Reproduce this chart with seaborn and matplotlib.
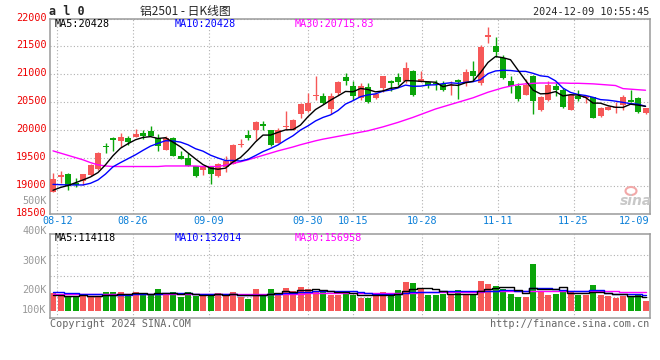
import numpy as np
import pandas as pd
import seaborn as sns
import matplotlib.pyplot as plt
from matplotlib.transforms import ScaledTranslation, IdentityTransform
from matplotlib.patches import Ellipse


# daily K line of al2501, 08-09 .. 12-09 (80 sessions)
opens = [18900, 19164, 19218, 19062, 19098, 19194, 19302, 19725, 19869, 19810,
         19869, 19887, 19959, 19977, 19869, 19648, 19858, 19546, 19500, 19351,
         19284, 19351, 19182, 19350, 19397, 19733, 19918, 19996, 20115, 19996,
         19780, 20056, 20008, 20295, 20343, 20606, 20618, 20384, 20666, 20953,
         20797, 20576, 20773, 20576, 20755, 20875, 20953, 20875, 21055, 20869,
         20857, 20845, 20833, 20785, 20905, 20845, 21067, 20845, 21671, 21515,
         21294, 20887, 20785, 20636, 20977, 20355, 20546, 20785, 20726, 20367,
         20618, 20570, 20594, 20247, 20367, 20390, 20444, 20546, 20576, 20307]
highs = [19242, 19271, 19242, 19146, 19225, 19395, 19613, 19780, 19875, 19959,
         19900, 20020, 19995, 20067, 19936, 19900, 19870, 19625, 19600, 19360,
         19360, 19360, 19405, 19530, 19745, 19840, 20008, 20160, 20157, 20008,
         20044, 20337, 20199, 20480, 20660, 20965, 20665, 20665, 20875, 21025,
         20875, 20845, 20845, 20670, 20970, 20905, 21025, 21216, 21085, 21055,
         20887, 20905, 20875, 20875, 20917, 21097, 21234, 21521, 21850, 21671,
         21354, 20977, 20845, 20917, 20990, 20606, 20875, 20845, 20755, 20654,
         20714, 20618, 20600, 20410, 20438, 20498, 20630, 20714, 20594, 20396]
lows = [18890, 19062, 18930, 18990, 19015, 19180, 19290, 19590, 19636, 19697,
        19738, 19880, 19846, 19905, 19636, 19640, 19530, 19480, 19356, 19170,
        19190, 19038, 19170, 19260, 19390, 19700, 19828, 19828, 19996, 19720,
        19770, 20008, 19996, 20217, 20331, 20546, 20470, 20295, 20636, 20815,
        20546, 20546, 20486, 20560, 20684, 20696, 20815, 20845, 20618, 20857,
        20755, 20725, 20696, 20636, 20558, 20797, 20905, 20815, 21563, 21312,
        20917, 20666, 20516, 20630, 20295, 20337, 20528, 20606, 20396, 20355,
        20516, 20486, 20217, 20235, 20355, 20307, 20355, 20498, 20307, 20283]
closes = [19122, 19194, 19002, 19015, 19218, 19385, 19589, 19697, 19833, 19887,
          19787, 19941, 19905, 19905, 19720, 19858, 19541, 19492, 19356, 19182,
          19351, 19218, 19397, 19457, 19738, 19750, 19858, 20151, 20067, 19738,
          19996, 20080, 20175, 20474, 20486, 20636, 20486, 20606, 20857, 20887,
          20606, 20785, 20504, 20654, 20965, 20845, 20863, 21114, 20636, 20917,
          20803, 20827, 20714, 20803, 20863, 21037, 20965, 21485, 21713, 21396,
          20929, 20785, 20558, 20803, 20516, 20594, 20815, 20726, 20414, 20630,
          20558, 20606, 20223, 20402, 20408, 20414, 20594, 20510, 20319, 20390]
volume_k = [150, 125, 127, 127, 125, 119, 119, 155, 155, 155,
            139, 155, 136, 133, 180, 139, 155, 114, 155, 127,
            136, 127, 147, 136, 155, 114, 97, 180, 127, 180,
            147, 188, 166, 197, 180, 169, 169, 136, 136, 163,
            136, 108, 108, 136, 155, 136, 172, 238, 230, 188,
            130, 130, 144, 130, 172, 136, 136, 247, 222, 205,
            186, 139, 116, 116, 388, 158, 130, 139, 172, 158,
            136, 130, 213, 136, 125, 108, 125, 116, 139, 83]

# moving averages as drawn on the chart
ma5 = [18925, 18975, 19010, 19060, 19110, 19163, 19242, 19381, 19544, 19678,
       19759, 19829, 19871, 19885, 19852, 19866, 19786, 19703, 19593, 19486,
       19384, 19320, 19301, 19321, 19432, 19512, 19640, 19791, 19913, 19913,
       19962, 20006, 20011, 20093, 20242, 20370, 20451, 20538, 20614, 20694,
       20688, 20748, 20728, 20687, 20703, 20751, 20766, 20888, 20885, 20875,
       20867, 20859, 20779, 20813, 20802, 20849, 20876, 21031, 21213, 21319,
       21298, 21262, 21076, 20894, 20718, 20651, 20657, 20691, 20613, 20636,
       20629, 20587, 20486, 20484, 20439, 20411, 20408, 20466, 20449, 20428]
ma10 = [19030, 19025, 19020, 19020, 19020, 19050, 19110, 19215, 19345, 19420,
        19490, 19560, 19640, 19715, 19765, 19812, 19807, 19787, 19739, 19669,
        19625, 19553, 19502, 19457, 19459, 19448, 19480, 19546, 19617, 19673,
        19737, 19823, 19901, 20003, 20078, 20166, 20229, 20274, 20353, 20468,
        20529, 20600, 20633, 20651, 20699, 20720, 20757, 20808, 20786, 20789,
        20809, 20813, 20834, 20849, 20839, 20858, 20868, 20905, 21013, 21061,
        21073, 21069, 21053, 21053, 21019, 20974, 20959, 20884, 20754, 20677,
        20640, 20622, 20589, 20548, 20538, 20520, 20498, 20476, 20466, 20428]
ma30 = [19630, 19590, 19550, 19510, 19470, 19420, 19380, 19360, 19350, 19350,
        19350, 19350, 19350, 19350, 19350, 19360, 19360, 19360, 19360, 19360,
        19350, 19350, 19350, 19375, 19405, 19435, 19470, 19510, 19550, 19590,
        19630, 19665, 19700, 19740, 19775, 19810, 19840, 19865, 19890, 19915,
        19940, 19965, 19990, 20025, 20060, 20100, 20140, 20185, 20230, 20280,
        20330, 20380, 20420, 20460, 20500, 20540, 20580, 20630, 20680, 20720,
        20760, 20790, 20815, 20830, 20840, 20845, 20845, 20845, 20845, 20840,
        20840, 20835, 20830, 20820, 20810, 20800, 20745, 20735, 20725, 20715.83]
vol_ma5 = [136, 130, 125, 128, 131, 125, 124, 129, 135, 141,
           145, 152, 148, 143, 148, 148, 148, 144, 148, 138,
           137, 132, 139, 135, 140, 136, 130, 136, 135, 140,
           146, 165, 162, 176, 176, 180, 176, 170, 158, 155,
           148, 136, 130, 130, 129, 129, 141, 167, 186, 193,
           192, 183, 165, 145, 141, 142, 143, 164, 182, 189,
           199, 199, 173, 152, 189, 183, 182, 186, 197, 151,
           147, 147, 162, 155, 148, 142, 141, 122, 122, 114.118]
vol_ma10 = [160, 158, 150, 146, 142, 140, 138, 137, 136, 136,
            135, 138, 139, 139, 145, 147, 150, 146, 146, 143,
            143, 140, 141, 142, 139, 137, 131, 137, 135, 140,
            141, 147, 149, 155, 158, 163, 170, 166, 167, 165,
            164, 156, 150, 144, 142, 138, 139, 149, 158, 161,
            160, 162, 166, 165, 167, 167, 163, 164, 163, 165,
            171, 171, 169, 167, 189, 191, 191, 180, 175, 170,
            165, 164, 174, 176, 150, 145, 144, 142, 139, 132.014]
vol_ma30 = [140, 140, 141, 141, 141, 141, 140, 140, 140, 140,
            140, 140, 141, 141, 141, 141, 141, 141, 141, 141,
            140, 140, 140, 140, 140, 140, 139, 139, 140, 140,
            141, 142, 143, 145, 147, 148, 148, 148, 149, 149,
            149, 148, 147, 147, 146, 147, 149, 151, 153, 155,
            155, 155, 155, 155, 155, 157, 159, 161, 163, 164,
            165, 165, 165, 165, 166, 166, 166, 166, 165, 165,
            165, 165, 166, 167, 168, 165, 162, 160, 157, 156.958]

tick_idx = [1, 11, 21, 34, 40, 49, 59, 69, 79]
tick_dates = ['08-12', '08-26', '09-09', '09-30', '10-15', '10-28', '11-11', '11-25', '12-09']
price_ticks = [18500, 19000, 19500, 20000, 20500, 21000, 21500, 22000]
vol_tick_text = ['500K', '400K', '300K', '200K', '100K']

W, H = 660, 360
RED = '#f65858'
GREEN = '#0aa50a'
GRID = '#b0b0b0'
SPINE = '#9a9a9a'
BLUE = '#0000ff'
MAGENTA = '#ff00ff'
DATE_BLUE = '#0a7fd8'
FS = 7.3

sns.set_theme(style='white')
plt.rcParams['font.family'] = ['DejaVu Sans Mono', 'DejaVu Sans']


def fx(x):
    return x / W


def fy(y):
    return 1 - y / H


df = pd.DataFrame({'open': opens, 'high': highs, 'low': lows, 'close': closes,
                   'volume': volume_k, 'ma5': ma5, 'ma10': ma10, 'ma30': ma30,
                   'vma5': vol_ma5, 'vma10': vol_ma10, 'vma30': vol_ma30})
df['x'] = np.arange(len(df))
colors = np.where(df['close'] >= df['open'], RED, GREEN)

fig = plt.figure(figsize=(W / 100, H / 100), dpi=100)
ax_p = fig.add_axes([fx(50.3), fy(214), (649.7 - 50.3) / W, (214 - 18.5) / H])
ax_v = fig.add_axes([fx(50.3), fy(318), (649.7 - 50.3) / W, 84 / H])

# candles: wick then body
ax_p.vlines(df['x'], df['low'], df['high'], colors=colors, lw=1, zorder=2)
body = (df['close'] - df['open']).abs().clip(lower=15)
ax_p.bar(df['x'], body, bottom=df[['open', 'close']].min(axis=1), width=0.8,
         color=colors, linewidth=0, zorder=3)

sns.lineplot(x=df['x'], y=df['ma30'], ax=ax_p, color=MAGENTA, lw=1, zorder=4)
sns.lineplot(x=df['x'], y=df['ma10'], ax=ax_p, color=BLUE, lw=1, zorder=5)
sns.lineplot(x=df['x'], y=df['ma5'], ax=ax_p, color='black', lw=1, zorder=6)

# volume
ax_v.bar(df['x'], df['volume'], width=0.8, color=colors, linewidth=0, zorder=2)
for col, c in [('vma30', MAGENTA), ('vma10', BLUE), ('vma5', 'black')]:
    sns.lineplot(x=df['x'], y=df[col], ax=ax_v, color=c, lw=1, drawstyle='steps-mid', zorder=4)

# sina draws its date grid on a slightly wider step than the candles
grid_x = [i - 0.45 + 0.0125 * i for i in tick_idx]
xlim = (-0.36, 79.56)

for ax in (ax_p, ax_v):
    ax.set_xlim(*xlim)
    ax.set_xticks(grid_x)
    ax.set_xlabel('')
    ax.set_ylabel('')
    ax.grid(True, color=GRID, lw=0.8, linestyle=(0, (1, 2)))
    ax.tick_params(length=0)
    for s in ax.spines.values():
        s.set_visible(True)
        s.set_color(SPINE)
        s.set_linewidth(1.1)

ax_p.set_ylim(18500, 22000)
ax_p.set_yticks(price_ticks)
ax_p.set_yticklabels([str(t) for t in price_ticks])
ax_p.set_xticklabels(tick_dates)
ax_p.tick_params(axis='y', colors='#ee0000', labelsize=FS, pad=2.6)
ax_p.tick_params(axis='x', colors=DATE_BLUE, labelsize=FS, pad=1.8)
ax_p.get_xticklabels()[-1].set_ha('right')
lift = ScaledTranslation(0, 2 / 100, fig.dpi_scale_trans)
for lab in ax_p.get_yticklabels():
    lab.set_transform(lab.get_transform() + lift)

# volume panel: zero sits 7px above the bottom frame, ~8.3K per pixel
vlo, vhi = -7 * 8.31, 77 * 8.31
ax_v.set_ylim(vlo, vhi)
ax_v.set_yticks([vlo + (vhi - vlo) * f for f in (0.25, 0.5, 0.75)])
ax_v.tick_params(labelleft=False, labelbottom=False)

# volume scale labels as sina prints them
for txt, y in zip(vol_tick_text, [200.7, 230.7, 260.7, 290, 310.3]):
    fig.text(fx(46.7), fy(y), txt, ha='right', va='center', fontsize=FS, color='#999999')

# header
fig.text(fx(49), fy(11.5), 'a l 0', fontsize=8.5, fontweight='bold', va='center')
fig.text(fx(140), fy(11.5), '铝2501 - 日K线图', fontsize=8.5, va='center',
         family=['Noto Sans CJK SC', 'DejaVu Sans'])
fig.text(fx(649.3), fy(12.3), '2024-12-09 10:55:45', ha='right', va='center', fontsize=FS)

# legends
legend_x = [55, 175, 295]
legend_c = ['black', BLUE, MAGENTA]
price_leg = [f'MA5:{ma5[-1]:g}', f'MA10:{ma10[-1]:g}', f'MA30:{ma30[-1]:.2f}']
vol_leg = [f'MA5:{vol_ma5[-1] * 1000:.0f}', f'MA10:{vol_ma10[-1] * 1000:.0f}',
           f'MA30:{vol_ma30[-1] * 1000:.0f}']
for x, c, a, b in zip(legend_x, legend_c, price_leg, vol_leg):
    fig.text(fx(x), fy(24), a, color=c, fontsize=FS, va='center')
    fig.text(fx(x), fy(238.3), b, color=c, fontsize=FS, va='center')

# footer
fig.text(fx(50), fy(324), 'Copyright 2024 SINA.COM', color='#666666', fontsize=FS, va='center')
fig.text(fx(649.3), fy(324), 'http://finance.sina.com.cn', color='#666666', fontsize=FS,
         ha='right', va='center')

# sina watermark
fig.text(fx(652), fy(201), 'sina', family='DejaVu Sans', fontstyle='italic', fontweight='bold',
         color='#c8c8c8', fontsize=10, ha='right', va='center')
fig.add_artist(Ellipse((631, H - 191), 11, 8, transform=IdentityTransform(),
                       facecolor='none', edgecolor='#f2a8a8', lw=1.5))

fig.savefig('out.png', dpi=100, facecolor='white')
